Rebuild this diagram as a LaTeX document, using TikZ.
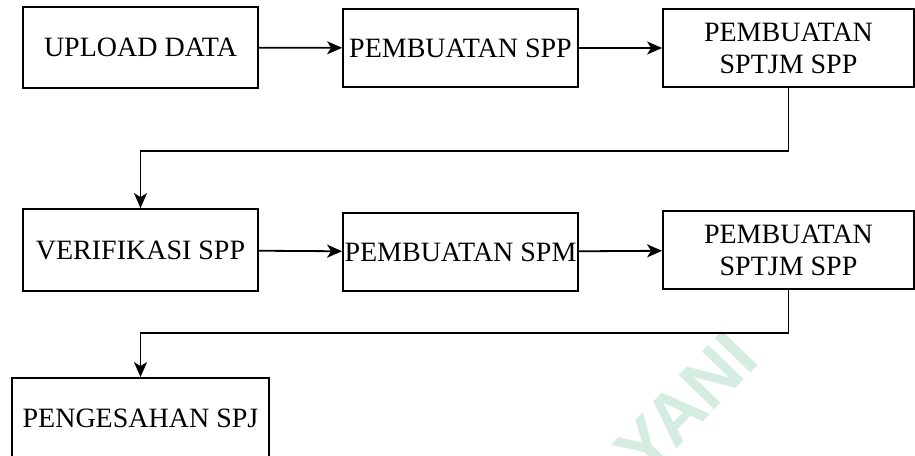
\documentclass[tikz,border=0pt]{standalone}
\usepackage{fontspec}
\setmainfont{Liberation Serif}
\setsansfont{Liberation Sans}
\usetikzlibrary{arrows.meta}
\definecolor{markgreen}{HTML}{D5ECE1}
\begin{document}
\begin{tikzpicture}[x=1pt,y=-1pt,
  box/.style={draw,line width=1.8pt,inner sep=0pt,align=center,
    font=\fontsize{28}{32}\selectfont},
  flow/.style={line width=1.8pt,-{Stealth[length=15pt,width=13pt,inset=4pt]}}]
\useasboundingbox (0,0) rectangle (915,455);
% faint watermark
\node[font=\sffamily\bfseries\fontsize{72}{72}\selectfont,text=markgreen,rotate=46] (mark) at (686,404) {YANI};
% first row
\node[box,minimum width=235pt,minimum height=81pt] (upload) at (140.5,47.5) {UPLOAD DATA};
\node[box,minimum width=235pt,minimum height=78pt] (spp) at (460.5,48) {PEMBUATAN SPP};
\node[box,minimum width=251pt,minimum height=78pt] (sptjm) at (788.5,48) {PEMBUATAN\\SPTJM SPP};
% second row
\node[box,minimum width=235pt,minimum height=82pt] (verif) at (140.5,250) {VERIFIKASI SPP};
\node[box,minimum width=235pt,minimum height=78pt] (spm) at (460.5,252) {PEMBUATAN SPM};
\node[box,minimum width=251pt,minimum height=78pt] (sptjmb) at (788.5,250) {PEMBUATAN\\SPTJM SPP};
% last box, cut at the bottom
\node[box,minimum width=257pt,minimum height=80pt] (sah) at (140.5,418) {PENGESAHAN SPJ};
% connectors
\draw[flow] (upload) -- (spp);
\draw[flow] (spp) -- (sptjm);
\draw[flow] (sptjm.south) -- ++(0,63) -| (verif.north);
\draw[flow] (verif) -- (spm);
\draw[flow] (spm) -- (sptjmb);
\draw[flow] (sptjmb.south) -- ++(0,43) -| (sah.north);
\end{tikzpicture}
\end{document}
